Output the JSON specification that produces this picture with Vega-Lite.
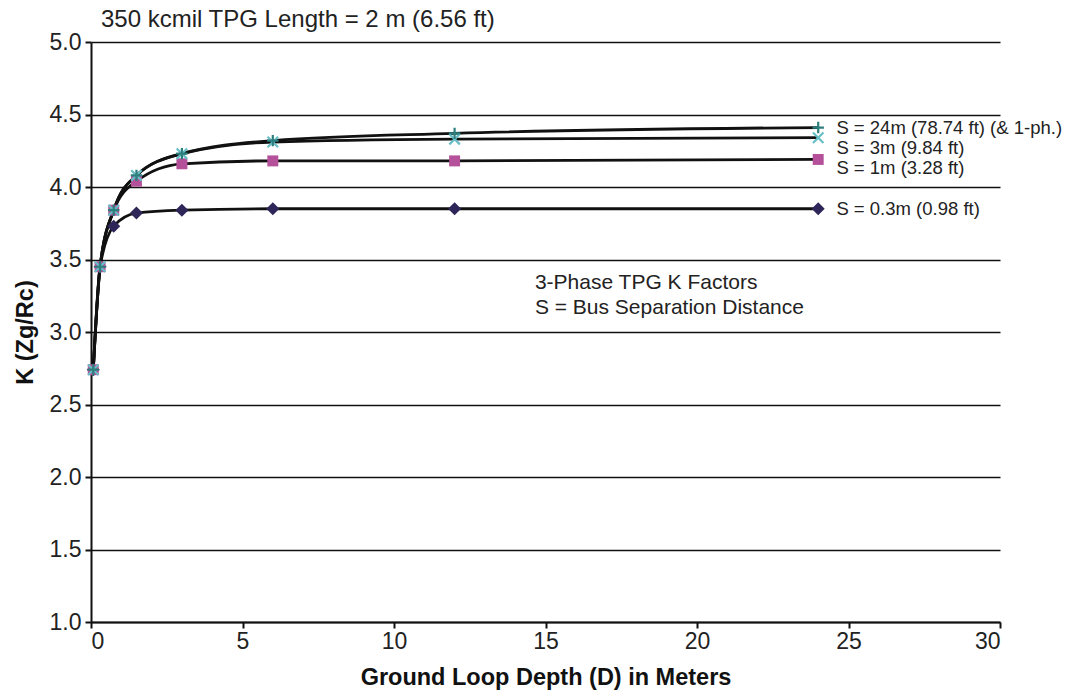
{
  "$schema": "https://vega.github.io/schema/vega-lite/v6.json",
  "width": 909,
  "height": 580,
  "autosize": {"type": "none"},
  "padding": {"left": 91, "top": 42, "right": 72, "bottom": 74},
  "background": "white",
  "title": {
    "text": "350 kcmil TPG Length = 2 m (6.56 ft)",
    "anchor": "start",
    "frame": "group",
    "dx": 10,
    "offset": -1,
    "fontSize": 24,
    "font": "Liberation Sans",
    "fontWeight": "normal",
    "color": "#222222"
  },
  "datasets": {
    "kfactors": [
      {"series": "0.3m", "D": 0.075, "K": 2.74},
      {"series": "0.3m", "D": 0.3, "K": 3.45},
      {"series": "0.3m", "D": 0.75, "K": 3.73},
      {"series": "0.3m", "D": 1.5, "K": 3.82},
      {"series": "0.3m", "D": 3, "K": 3.84},
      {"series": "0.3m", "D": 6, "K": 3.85},
      {"series": "0.3m", "D": 12, "K": 3.85},
      {"series": "0.3m", "D": 24, "K": 3.85},
      {"series": "1m", "D": 0.075, "K": 2.74},
      {"series": "1m", "D": 0.3, "K": 3.45},
      {"series": "1m", "D": 0.75, "K": 3.84},
      {"series": "1m", "D": 1.5, "K": 4.04},
      {"series": "1m", "D": 3, "K": 4.16},
      {"series": "1m", "D": 6, "K": 4.18},
      {"series": "1m", "D": 12, "K": 4.18},
      {"series": "1m", "D": 24, "K": 4.19},
      {"series": "3m", "D": 0.075, "K": 2.74},
      {"series": "3m", "D": 0.3, "K": 3.45},
      {"series": "3m", "D": 0.75, "K": 3.84},
      {"series": "3m", "D": 1.5, "K": 4.08},
      {"series": "3m", "D": 3, "K": 4.23},
      {"series": "3m", "D": 6, "K": 4.31},
      {"series": "3m", "D": 12, "K": 4.33},
      {"series": "3m", "D": 24, "K": 4.34},
      {"series": "24m", "D": 0.075, "K": 2.74},
      {"series": "24m", "D": 0.3, "K": 3.45},
      {"series": "24m", "D": 0.75, "K": 3.84},
      {"series": "24m", "D": 1.5, "K": 4.08},
      {"series": "24m", "D": 3, "K": 4.23},
      {"series": "24m", "D": 6, "K": 4.32},
      {"series": "24m", "D": 12, "K": 4.37},
      {"series": "24m", "D": 24, "K": 4.41}
    ],
    "seriesLabels": [
      {"label": "S = 24m (78.74 ft) (& 1-ph.)", "lx": 24.6, "ly": 4.405},
      {"label": "S = 3m (9.84 ft)", "lx": 24.6, "ly": 4.27},
      {"label": "S = 1m (3.28 ft)", "lx": 24.6, "ly": 4.13},
      {"label": "S = 0.3m (0.98 ft)", "lx": 24.6, "ly": 3.845}
    ],
    "notes": [
      {"label": "3-Phase TPG K Factors", "lx": 14.65, "ly": 3.34},
      {"label": "S = Bus Separation Distance", "lx": 14.65, "ly": 3.165}
    ]
  },
  "layer": [
    {
      "data": {"name": "kfactors"},
      "mark": {"type": "line", "interpolate": "monotone", "color": "#111111", "strokeWidth": 2.8},
      "encoding": {
        "x": {
          "field": "D",
          "type": "quantitative",
          "scale": {"domain": [0, 30], "nice": false},
          "axis": {
            "title": "Ground Loop Depth (D) in Meters",
            "values": [0, 5, 10, 15, 20, 25, 30],
            "grid": false
          }
        },
        "y": {
          "field": "K",
          "type": "quantitative",
          "scale": {"domain": [1, 5], "nice": false, "zero": false},
          "axis": {
            "title": "K (Zg/Rc)",
            "values": [1, 1.5, 2, 2.5, 3, 3.5, 4, 4.5, 5],
            "format": ".1f",
            "grid": true
          }
        },
        "detail": {"field": "series"}
      }
    },
    {
      "data": {"name": "kfactors"},
      "transform": [{"filter": "datum.series === '0.3m'"}],
      "mark": {"type": "point", "shape": "diamond", "filled": true, "opacity": 1, "size": 170, "color": "#2E2659"},
      "encoding": {
        "x": {"field": "D", "type": "quantitative"},
        "y": {"field": "K", "type": "quantitative"}
      }
    },
    {
      "data": {"name": "kfactors"},
      "transform": [{"filter": "datum.series === '1m'"}],
      "mark": {"type": "point", "shape": "square", "filled": true, "opacity": 1, "size": 120, "color": "#B4519A"},
      "encoding": {
        "x": {"field": "D", "type": "quantitative"},
        "y": {"field": "K", "type": "quantitative"}
      }
    },
    {
      "data": {"name": "kfactors"},
      "transform": [{"filter": "datum.series === '3m'"}],
      "mark": {"type": "point", "shape": "M-1,-1L1,1M-1,1L1,-1", "filled": false, "opacity": 1, "size": 110, "strokeWidth": 2.2, "stroke": "#66BFC6"},
      "encoding": {
        "x": {"field": "D", "type": "quantitative"},
        "y": {"field": "K", "type": "quantitative"}
      }
    },
    {
      "data": {"name": "kfactors"},
      "transform": [{"filter": "datum.series === '24m'"}],
      "mark": {"type": "point", "shape": "M-1,0L1,0M0,-1L0,1", "filled": false, "opacity": 1, "size": 130, "strokeWidth": 2.2, "stroke": "#2D7F7E"},
      "encoding": {
        "x": {"field": "D", "type": "quantitative"},
        "y": {"field": "K", "type": "quantitative"}
      }
    },
    {
      "data": {"name": "seriesLabels"},
      "mark": {"type": "text", "align": "left", "baseline": "middle", "fontSize": 18.5, "font": "Liberation Sans", "color": "#222222"},
      "encoding": {
        "x": {"field": "lx", "type": "quantitative"},
        "y": {"field": "ly", "type": "quantitative"},
        "text": {"field": "label"}
      }
    },
    {
      "data": {"name": "notes"},
      "mark": {"type": "text", "align": "left", "baseline": "middle", "fontSize": 21, "font": "Liberation Sans", "color": "#222222"},
      "encoding": {
        "x": {"field": "lx", "type": "quantitative"},
        "y": {"field": "ly", "type": "quantitative"},
        "text": {"field": "label"}
      }
    }
  ],
  "config": {
    "view": {"stroke": null},
    "font": "Liberation Sans",
    "axis": {
      "labelFont": "Liberation Sans",
      "labelFontSize": 23,
      "labelColor": "#222222",
      "titleFont": "Liberation Sans",
      "titleFontSize": 23.5,
      "titleFontWeight": "bold",
      "titleColor": "#111111",
      "domainColor": "#111111",
      "domainWidth": 2,
      "tickColor": "#111111",
      "tickWidth": 2,
      "tickSize": 6,
      "gridColor": "#111111",
      "gridWidth": 1.6,
      "gridOpacity": 1
    },
    "axisX": {"labelPadding": 2, "titlePadding": 12},
    "axisY": {"labelPadding": 4, "titlePadding": 12}
  }
}
